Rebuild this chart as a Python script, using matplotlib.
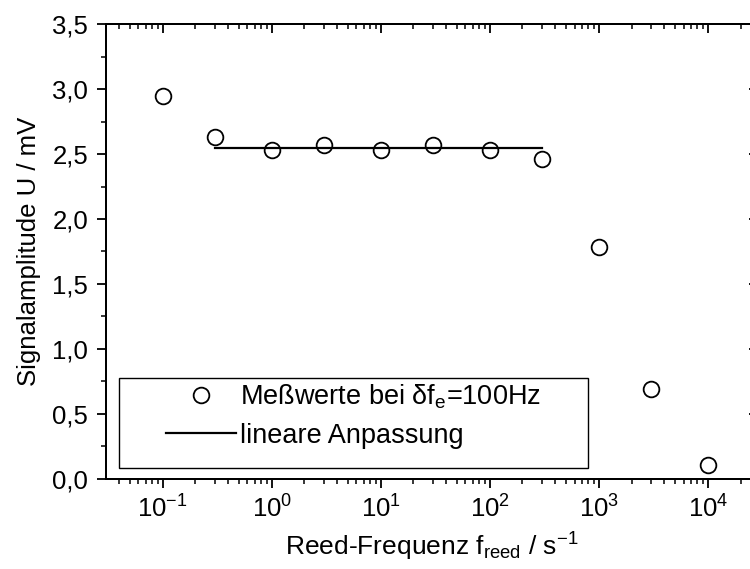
import matplotlib.pyplot as plt
from matplotlib.patches import Rectangle
from matplotlib.ticker import FixedLocator, FuncFormatter, LogLocator, MultipleLocator, NullFormatter

plt.rcParams["font.family"] = ["Liberation Sans", "DejaVu Sans"]
plt.rcParams["mathtext.fontset"] = "custom"
plt.rcParams["mathtext.rm"] = "Liberation Sans"
plt.rcParams["mathtext.it"] = "Liberation Sans"
plt.rcParams["mathtext.default"] = "regular"

# Messwerte
freq = [0.1, 0.3, 1, 3, 10, 30, 100, 300, 1000, 3000, 10000]
amplitude = [2.95, 2.63, 2.53, 2.57, 2.53, 2.57, 2.53, 2.465, 1.785, 0.695, 0.11]

# lineare Anpassung (konstant)
fit_freq = [0.3, 300]
fit_amp = [2.548, 2.548]

x_ticks = [1e-1, 1e0, 1e1, 1e2, 1e3, 1e4]
x_tick_labels = ["10$^{-1}$", "10$^{0}$", "10$^{1}$", "10$^{2}$", "10$^{3}$", "10$^{4}$"]

fig = plt.figure(figsize=(7.5, 5.69), dpi=100)
ax = fig.add_axes([0.1413, 0.1582, 0.8693, 0.7996])

ax.plot(freq, amplitude, "o", ms=11.3, mfc="none", mec="black", mew=1.3,
        label="Meßwerte bei $\\delta$f$_\\mathrm{e}$=100Hz", zorder=6)
ax.plot(fit_freq, fit_amp, "-", color="black", lw=1.6, label="lineare Anpassung", zorder=5)

ax.set_xscale("log")
ax.set_xlim(10 ** -1.52, 10 ** 4.461)
ax.set_ylim(0, 3.5)

ax.xaxis.set_major_locator(FixedLocator(x_ticks))
ax.set_xticklabels(x_tick_labels)
ax.xaxis.set_minor_locator(LogLocator(base=10, subs=range(2, 10), numticks=20))
ax.xaxis.set_minor_formatter(NullFormatter())
ax.yaxis.set_major_locator(MultipleLocator(0.5))
ax.yaxis.set_minor_locator(MultipleLocator(0.25))
ax.yaxis.set_major_formatter(FuncFormatter(lambda v, p: f"{v:.1f}".replace(".", ",")))

ax.tick_params(which="major", direction="out", length=6.7, width=1.3, labelsize=18.5)
ax.tick_params(which="minor", direction="out", length=3.6, width=1.1)
ax.tick_params(axis="y", which="major", pad=6)
ax.tick_params(axis="x", which="major", pad=5)

for s in ax.spines.values():
    s.set_linewidth(1.4)

# obere und rechte Achse mit Ticks nach innen
axt = ax.twiny()
axt.set_xscale("log")
axt.set_xlim(ax.get_xlim())
axt.xaxis.set_major_locator(FixedLocator(x_ticks))
axt.xaxis.set_minor_locator(LogLocator(base=10, subs=range(2, 10), numticks=20))
axt.tick_params(which="major", direction="in", length=6.7, width=1.3, labeltop=False)
axt.tick_params(which="minor", direction="in", length=3.6, width=1.1)
axt.xaxis.set_minor_formatter(NullFormatter())

axr = ax.twinx()
axr.set_ylim(ax.get_ylim())
axr.yaxis.set_major_locator(MultipleLocator(0.5))
axr.yaxis.set_minor_locator(MultipleLocator(0.25))
axr.tick_params(which="major", direction="in", length=6.7, width=1.3, labelright=False)
axr.tick_params(which="minor", direction="in", length=3.6, width=1.1)
for a in (axt, axr):
    for s in a.spines.values():
        s.set_linewidth(1.4)

ax.set_xlabel("Reed-Frequenz f$_\\mathrm{reed}$ / s$^{-1}$", fontsize=19, labelpad=6)
ax.set_ylabel("Signalamplitude U / mV", fontsize=18.5, labelpad=8)

# Legendenrahmen
box = Rectangle((0.0206, 0.0248), 0.7183, 0.1965, transform=ax.transAxes,
                facecolor="white", edgecolor="black", lw=1.0, zorder=7)
ax.add_patch(box)
leg = ax.legend(loc="upper left", bbox_to_anchor=(0.0913, 0.213), borderaxespad=0,
                borderpad=0, frameon=False, fontsize=19.5, handlelength=2.6,
                handletextpad=0.15, labelspacing=0.45)
leg.set_zorder(8)

fig.savefig("out.png", dpi=100)
